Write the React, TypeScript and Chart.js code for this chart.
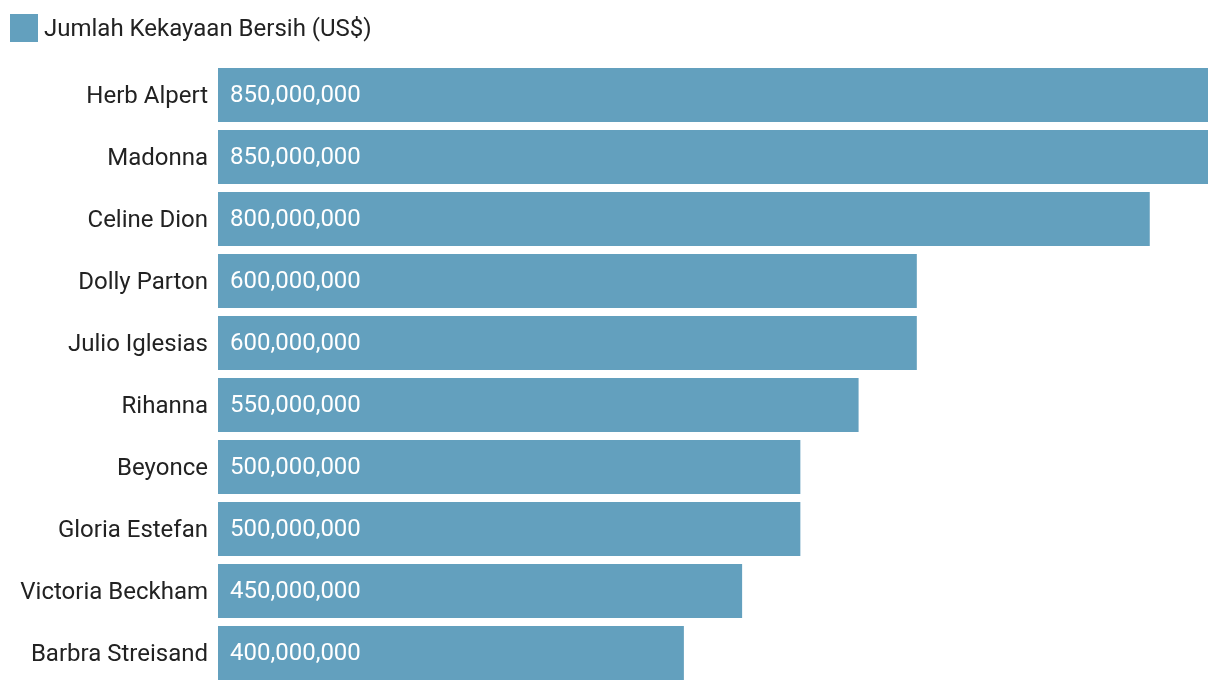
import React, { useEffect, useRef } from "react";
import { Chart, registerables } from "chart.js";

Chart.register(...registerables);

const categories = [
  "Herb Alpert",
  "Madonna",
  "Celine Dion",
  "Dolly Parton",
  "Julio Iglesias",
  "Rihanna",
  "Beyonce",
  "Gloria Estefan",
  "Victoria Beckham",
  "Barbra Streisand",
];
const netWorth = [850000000, 850000000, 800000000, 600000000, 600000000, 550000000, 500000000, 500000000, 450000000, 400000000];
const seriesLabel = "Jumlah Kekayaan Bersih (US$)";

const BAR_COLOR = "rgb(99,160,190)";
const TEXT_COLOR = "#222222";
const FONT = "Roboto";

const valueLabels = {
  id: "valueLabels",
  afterDatasetsDraw(chart: any) {
    const ctx = chart.ctx;
    const meta = chart.getDatasetMeta(0);
    ctx.save();
    ctx.fillStyle = "#ffffff";
    ctx.font = `24px ${FONT}`;
    ctx.textAlign = "left";
    ctx.textBaseline = "middle";
    meta.data.forEach((bar: any, i: number) => {
      const v = chart.data.datasets[0].data[i] as number;
      ctx.fillText(v.toLocaleString("en-US"), bar.base + 12, bar.y + 1);
    });
    ctx.restore();
  },
};

const topLegend = {
  id: "topLegend",
  afterDraw(chart: any) {
    const ctx = chart.ctx;
    const ds = chart.data.datasets[0];
    ctx.save();
    ctx.fillStyle = ds.backgroundColor;
    ctx.fillRect(10, 14, 28, 28);
    ctx.fillStyle = TEXT_COLOR;
    ctx.font = `24px ${FONT}`;
    ctx.textAlign = "left";
    ctx.textBaseline = "middle";
    ctx.fillText(ds.label, 44, 30);
    ctx.restore();
  },
};

export default function App() {
  const ref = useRef<HTMLCanvasElement | null>(null);
  useEffect(() => {
    if (!ref.current) return;
    const chart = new Chart(ref.current, {
      type: "bar",
      data: {
        labels: categories,
        datasets: [
          {
            label: seriesLabel,
            data: netWorth,
            backgroundColor: BAR_COLOR,
            borderWidth: 0,
            barPercentage: 1,
            categoryPercentage: 54 / 62,
          },
        ],
      },
      options: {
        indexAxis: "y",
        animation: false,
        responsive: false,
        maintainAspectRatio: false,
        layout: { padding: { top: 64, right: 12, bottom: 8, left: 0 } },
        plugins: {
          legend: { display: false },
          tooltip: { enabled: false },
        },
        scales: {
          x: {
            display: false,
            min: 0,
            max: 850000000,
          },
          y: {
            grid: { display: false, drawTicks: false },
            border: { display: false },
            ticks: {
              color: TEXT_COLOR,
              padding: 10,
              labelOffset: 2,
              font: { family: FONT, size: 24 },
            },
            afterFit(scale: any) {
              scale.width = 218;
              scale.paddingTop = 0;
              scale.paddingBottom = 0;
            },
          },
        },
      },
      plugins: [valueLabels, topLegend],
    });
    return () => chart.destroy();
  }, []);
  return (
    <div style={{ position: "fixed", left: 0, top: 0, width: 1220, height: 692, background: "#fff" }}>
      <canvas ref={ref} width={1220} height={692} style={{ width: 1220, height: 692 }} />
    </div>
  );
}
